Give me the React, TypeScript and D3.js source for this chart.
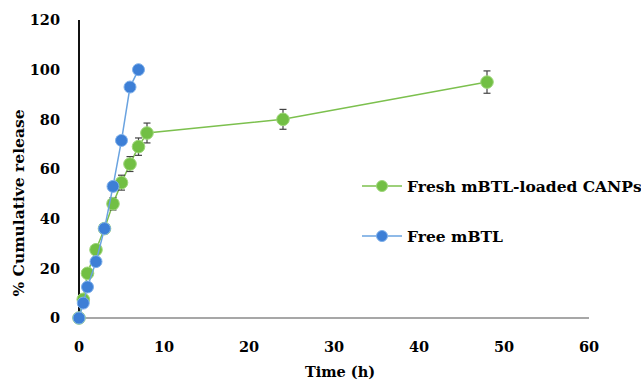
// Liberación acumulada: CANPs cargadas vs mBTL libre
import { useRef, useEffect } from 'react'
import * as d3 from 'd3'

const timesCanp = [0, 0.5, 1, 2, 3, 4, 5, 6, 7, 8, 24, 48]
const releaseCanp = [0, 7.5, 18, 27.5, 36, 46, 54.5, 62, 69, 74.5, 80, 95]
const errorCanp = [0, 1, 1.5, 1.5, 2, 2.5, 3, 3, 3.5, 4, 4, 4.5]

const timesFree = [0, 0.5, 1, 2, 3, 4, 5, 6, 7]
const releaseFree = [0, 6, 12.5, 22.7, 36, 53, 71.5, 93, 100]

const xTicks = [0, 10, 20, 30, 40, 50, 60]
const yTicks = [0, 20, 40, 60, 80, 100, 120]

const seriesNames = ['Fresh mBTL-loaded CANPs', 'Free mBTL']

const FONT = '"DejaVu Serif", serif'

export default function App() {
  const svgRef = useRef<SVGSVGElement>(null)

  useEffect(() => {
    const width = 641
    const height = 382
    const svg = d3.select(svgRef.current).attr('width', width).attr('height', height)
    svg.selectAll('*').remove()

    const x = d3.scaleLinear().domain([0, 60]).range([79, 589])
    const y = d3.scaleLinear().domain([0, 120]).range([318, 20])

    const green = { fill: '#72bf44', stroke: '#9ed67a', line: '#7cc04e' }
    const blue = { fill: '#3d7fd6', stroke: '#7fb0ea', line: '#6aa3e0' }

    // ejes
    svg.append('line')
      .attr('x1', x(0)).attr('x2', x(60)).attr('y1', y(0)).attr('y2', y(0))
      .attr('stroke', '#8a8a8a').attr('stroke-width', 1.5)
    svg.append('line')
      .attr('x1', x(0)).attr('x2', x(0)).attr('y1', y(0)).attr('y2', y(120))
      .attr('stroke', '#111').attr('stroke-width', 2)

    svg.selectAll('text.xt').data(xTicks).join('text')
      .attr('class', 'xt')
      .attr('x', d => x(d)).attr('y', 352)
      .attr('text-anchor', 'middle')
      .attr('font-family', FONT).attr('font-weight', 'bold').attr('font-size', '14.5px')
      .text(d => d)

    svg.selectAll('text.yt').data(yTicks).join('text')
      .attr('class', 'yt')
      .attr('x', 60).attr('y', d => y(d)).attr('dy', '0.36em')
      .attr('text-anchor', 'end')
      .attr('font-family', FONT).attr('font-weight', 'bold').attr('font-size', '14.5px')
      .text(d => d)

    svg.append('text')
      .attr('x', 340).attr('y', 377).attr('text-anchor', 'middle')
      .attr('font-family', FONT).attr('font-weight', 'bold').attr('font-size', '14.5px')
      .text('Time (h)')

    svg.append('text')
      .attr('transform', 'translate(24, 203) rotate(-90)')
      .attr('text-anchor', 'middle')
      .attr('font-family', FONT).attr('font-weight', 'bold').attr('font-size', '15.5px')
      .text('% Cumulative release')

    const canp = timesCanp.map((t, i) => ({ t, v: releaseCanp[i], e: errorCanp[i] }))
    const free = timesFree.map((t, i) => ({ t, v: releaseFree[i] }))
    const line = d3.line<{ t: number, v: number }>().x(d => x(d.t)).y(d => y(d.v))

    // serie verde con barras de error
    svg.append('path').datum(canp)
      .attr('d', line).attr('fill', 'none').attr('stroke', green.line).attr('stroke-width', 1.5)

    const eb = svg.append('g').attr('stroke', '#444').attr('stroke-width', 1.2)
    canp.filter(d => d.e > 0).forEach(d => {
      eb.append('line').attr('x1', x(d.t)).attr('x2', x(d.t)).attr('y1', y(d.v - d.e)).attr('y2', y(d.v + d.e))
      eb.append('line').attr('x1', x(d.t) - 3.5).attr('x2', x(d.t) + 3.5).attr('y1', y(d.v - d.e)).attr('y2', y(d.v - d.e))
      eb.append('line').attr('x1', x(d.t) - 3.5).attr('x2', x(d.t) + 3.5).attr('y1', y(d.v + d.e)).attr('y2', y(d.v + d.e))
    })

    svg.selectAll('circle.canp').data(canp).join('circle')
      .attr('class', 'canp')
      .attr('cx', d => x(d.t)).attr('cy', d => y(d.v)).attr('r', 6.3)
      .attr('fill', green.fill).attr('stroke', green.stroke).attr('stroke-width', 1)

    // serie azul
    svg.append('path').datum(free)
      .attr('d', line).attr('fill', 'none').attr('stroke', blue.line).attr('stroke-width', 1.5)

    svg.selectAll('circle.free').data(free).join('circle')
      .attr('class', 'free')
      .attr('cx', d => x(d.t)).attr('cy', d => y(d.v)).attr('r', 6)
      .attr('fill', blue.fill).attr('stroke', blue.stroke).attr('stroke-width', 1)

    // leyenda
    const styles = [green, blue]
    seriesNames.forEach((name, i) => {
      const ly = 186 + i * 50
      const g = svg.append('g')
      g.append('line').attr('x1', 362).attr('x2', 402).attr('y1', ly).attr('y2', ly)
        .attr('stroke', styles[i].line).attr('stroke-width', 1.5)
      g.append('circle').attr('cx', 382).attr('cy', ly).attr('r', 5.5)
        .attr('fill', styles[i].fill).attr('stroke', styles[i].stroke)
      g.append('text').attr('x', 407).attr('y', ly).attr('dy', '0.36em')
        .attr('font-family', FONT).attr('font-weight', 'bold').attr('font-size', '15.5px')
        .text(name)
    })
  }, [])

  return <svg ref={svgRef} style={{ position: 'absolute', left: 0, top: 0, display: 'block', background: '#fff' }} />
}
